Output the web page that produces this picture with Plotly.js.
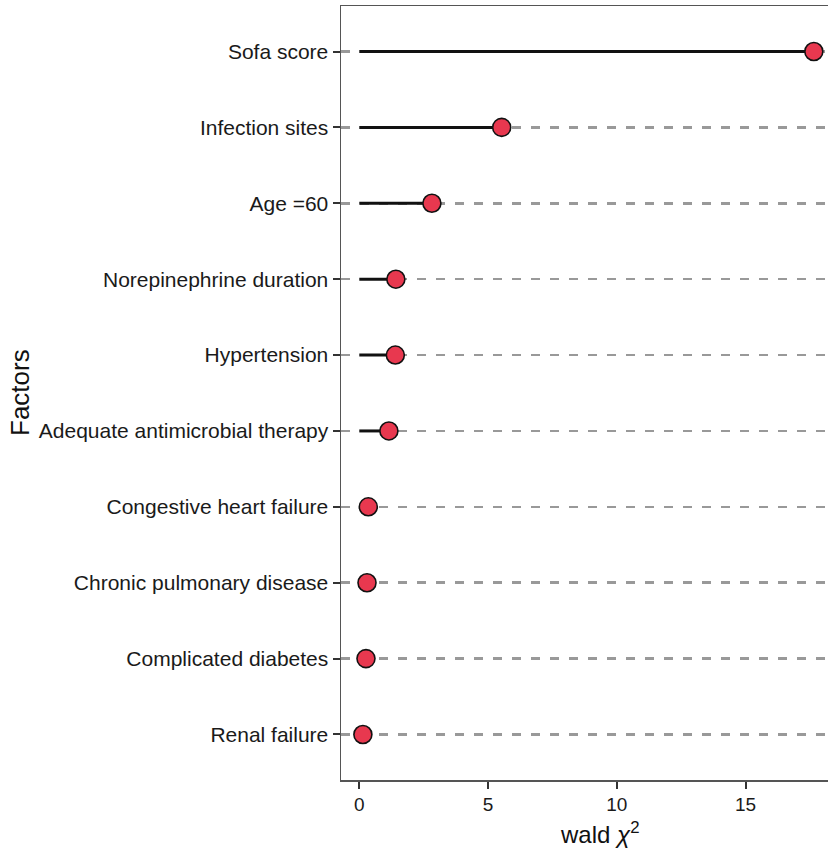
<!DOCTYPE html>
<html>
<head>
<meta charset="utf-8">
<script src="https://cdn.plot.ly/plotly-3.0.1.min.js"></script>
<style>html,body{margin:0;padding:0;background:#fff;overflow:hidden}</style>
</head>
<body>
<div id="chart" style="width:828px;height:850px;"></div>
<script>
const factors = ["Renal failure","Complicated diabetes","Chronic pulmonary disease","Congestive heart failure","Adequate antimicrobial therapy","Hypertension","Norepinephrine duration","Age =60","Infection sites","Sofa score"];
const waldChi2 = [0.14, 0.26, 0.30, 0.35, 1.15, 1.40, 1.42, 2.82, 5.53, 17.65];
const xTicks = [0, 5, 10, 15];

const segX = [], segY = [];
factors.forEach((f, i) => { segX.push(0, waldChi2[i], null); segY.push(f, f, null); });

const traces = [
  {type:'scatter', mode:'lines', x:segX, y:segY, line:{color:'#111', width:3}, hoverinfo:'skip', showlegend:false},
  {type:'scatter', mode:'markers', x:waldChi2, y:factors,
   marker:{size:18, color:'#E8384F', line:{color:'#111', width:1.6}}, showlegend:false}
];

const layout = {
  width:828, height:850,
  margin:{l:341, r:0, t:6, b:70},
  paper_bgcolor:'#fff', plot_bgcolor:'#fff',
  font:{family:'Liberation Sans, Arial, sans-serif', color:'#1a1a1a', size:20},
  xaxis:{range:[-0.71, 18.2], tickvals:xTicks, ticktext:xTicks.map(String),
    showgrid:false, zeroline:false, showline:true, linecolor:'#555', linewidth:1.5, mirror:true,
    ticks:'outside', ticklen:7, tickwidth:2, tickcolor:'#333', tickfont:{size:19, color:'#1a1a1a'}},
  yaxis:{type:'category', categoryorder:'array', categoryarray:factors, range:[-0.6, 9.6],
    showgrid:true, gridcolor:'#999', gridwidth:2.5, griddash:'9px,10px',
    zeroline:false, showline:true, linecolor:'#555', linewidth:1.5,
    ticks:'outside', ticklen:7, tickwidth:2, tickcolor:'#333', tickfont:{size:21, color:'#1a1a1a'}},
  annotations:[
    {xref:'paper', yref:'paper', x:0.53, y:0, yshift:-53, xanchor:'center', yanchor:'middle',
     showarrow:false, text:'wald <i>χ</i><sup>2</sup>', font:{size:24, color:'#111'}},
    {xref:'paper', yref:'paper', x:0, y:0.5, xshift:-321, xanchor:'center', yanchor:'middle', textangle:-90,
     showarrow:false, text:'Factors', font:{size:26, color:'#111'}}
  ]
};
Plotly.newPlot('chart', traces, layout, {displayModeBar:false, staticPlot:true});
</script>
</body>
</html>
